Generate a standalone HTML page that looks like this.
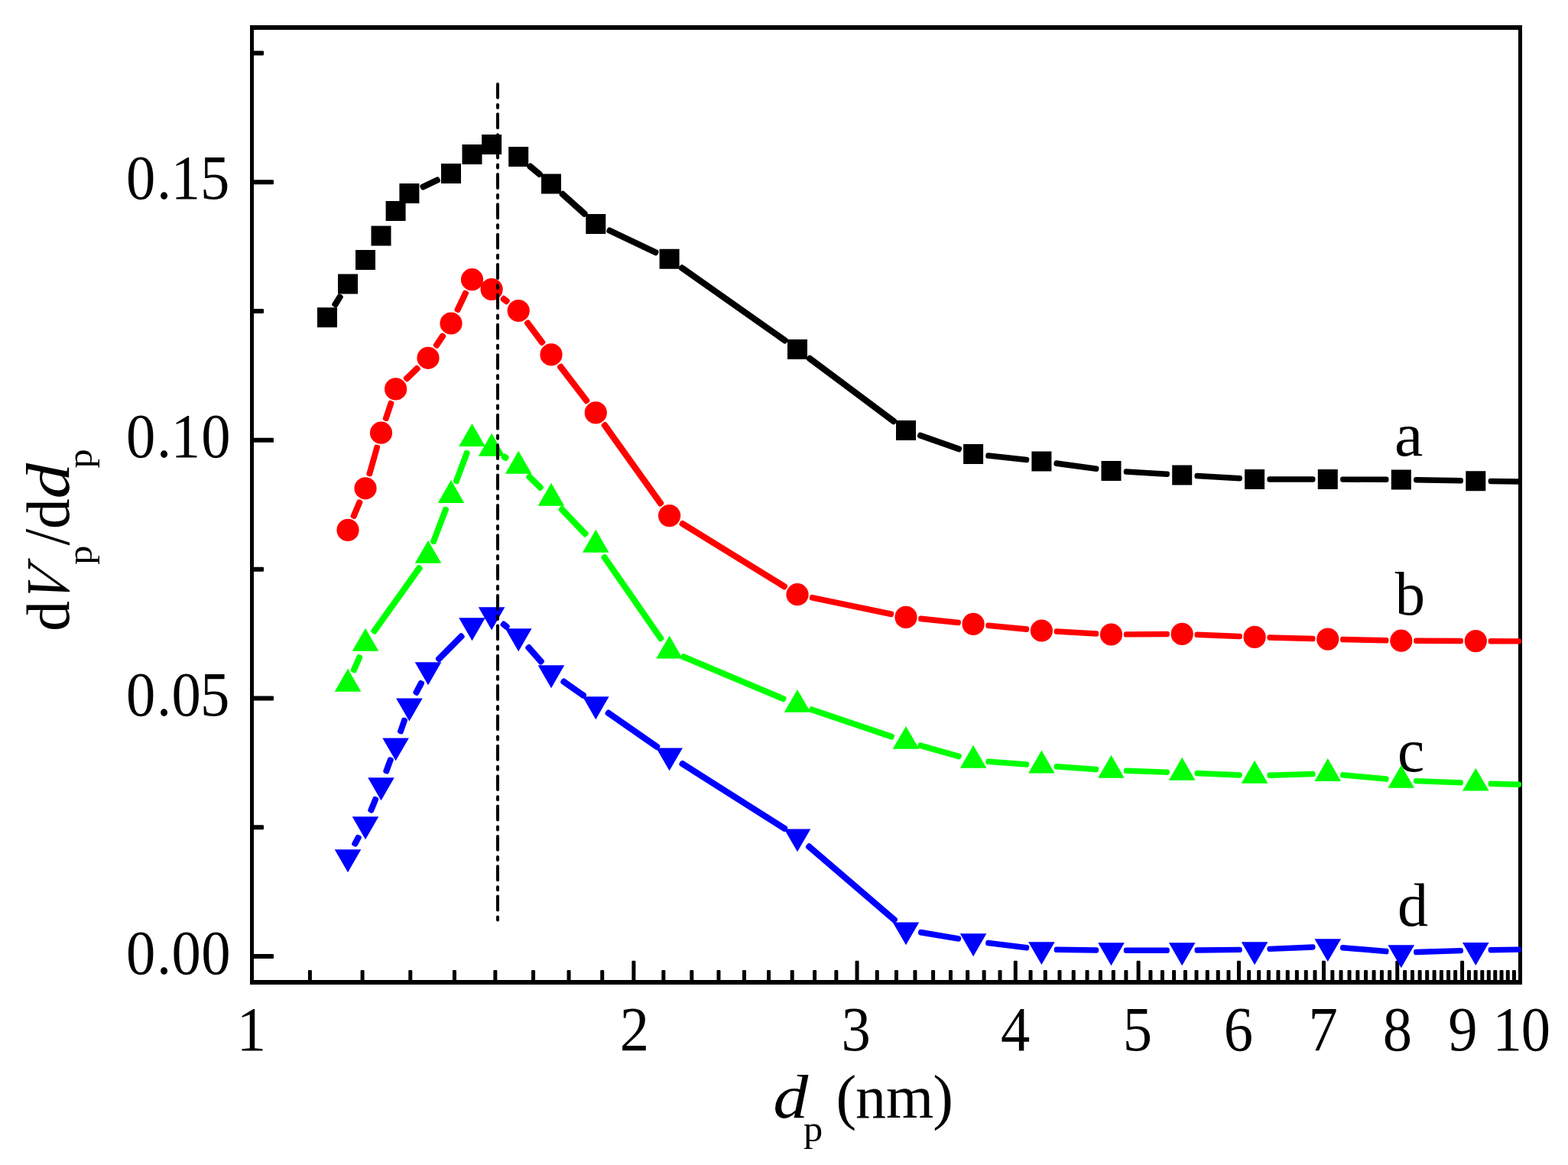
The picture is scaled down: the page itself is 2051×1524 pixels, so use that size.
<!DOCTYPE html>
<html lang="en"><head><meta charset="utf-8"><title>dVp/ddp - dp (nm)</title>
<style>html,body{margin:0;padding:0;background:#fff;}svg{display:block;}text{font-family:"Liberation Serif","DejaVu Serif",serif;fill:#000;}.i{font-style:italic;}</style></head><body>
<svg width="2051" height="1524" viewBox="0 0 2051 1524">
<rect x="0" y="0" width="2051" height="1524" fill="#fff"/>
<g id="curve-labels">
<text transform="translate(1824,596.2) scale(1.05,1)" font-size="80">a</text>
<text transform="translate(1824.8,804.1) scale(0.97,1)" font-size="81">b</text>
<text transform="translate(1828,1009.2)" font-size="79.5">c</text>
<text transform="translate(1827.9,1211.2) scale(0.99,1)" font-size="81">d</text>
</g>
<g id="axes" stroke="#000" fill="none">
<path d="M329.5 33.0 V1288.0 M1988.5 33.0 V1288.0" stroke-width="5.0"/>
<path d="M327.0 36.0 H1991.0 M327.0 1285.0 H1991.0" stroke-width="6.0"/>
<path d="M329.5 1249.30H356.80V1252.90H329.5ZM329.5 1080.48H343.80V1084.08H329.5ZM329.5 911.67H356.80V915.27H329.5ZM329.5 742.85H343.80V746.45H329.5ZM329.5 574.04H356.80V577.64H329.5ZM329.5 405.22H343.80V408.82H329.5ZM329.5 236.41H356.80V240.01H329.5ZM329.5 67.59H343.80V71.19H329.5Z" fill="#000" stroke-width="2.4" stroke-linejoin="round"/>
<path d="M404.11 1285.0V1270.10H406.71V1285.0ZM472.78 1285.0V1270.10H475.38V1285.0ZM535.47 1285.0V1270.10H538.07V1285.0ZM593.14 1285.0V1270.10H595.74V1285.0ZM646.54 1285.0V1270.10H649.14V1285.0ZM696.25 1285.0V1270.10H698.85V1285.0ZM742.75 1285.0V1270.10H745.35V1285.0ZM786.43 1285.0V1270.10H789.03V1285.0ZM827.61 1285.0V1258.00H830.21V1285.0ZM866.56 1285.0V1270.10H869.16V1285.0ZM903.52 1285.0V1270.10H906.12V1285.0ZM938.67 1285.0V1270.10H941.27V1285.0ZM972.19 1285.0V1270.10H974.79V1285.0ZM1004.22 1285.0V1270.10H1006.82V1285.0ZM1034.88 1285.0V1270.10H1037.48V1285.0ZM1064.29 1285.0V1270.10H1066.89V1285.0ZM1092.55 1285.0V1270.10H1095.15V1285.0ZM1119.74 1285.0V1258.00H1122.34V1285.0ZM1145.95 1285.0V1270.10H1148.55V1285.0ZM1171.23 1285.0V1270.10H1173.83V1285.0ZM1195.66 1285.0V1270.10H1198.26V1285.0ZM1219.28 1285.0V1270.10H1221.88V1285.0ZM1242.16 1285.0V1270.10H1244.76V1285.0ZM1264.33 1285.0V1270.10H1266.93V1285.0ZM1285.84 1285.0V1270.10H1288.44V1285.0ZM1306.72 1285.0V1270.10H1309.32V1285.0ZM1327.02 1285.0V1258.00H1329.62V1285.0ZM1346.76 1285.0V1270.10H1349.36V1285.0ZM1365.97 1285.0V1270.10H1368.57V1285.0ZM1384.69 1285.0V1270.10H1387.29V1285.0ZM1402.93 1285.0V1270.10H1405.53V1285.0ZM1420.72 1285.0V1270.10H1423.32V1285.0ZM1438.08 1285.0V1270.10H1440.68V1285.0ZM1455.04 1285.0V1270.10H1457.64V1285.0ZM1471.60 1285.0V1270.10H1474.20V1285.0ZM1487.79 1285.0V1258.00H1490.39V1285.0ZM1503.63 1285.0V1270.10H1506.23V1285.0ZM1519.12 1285.0V1270.10H1521.72V1285.0ZM1534.29 1285.0V1270.10H1536.89V1285.0ZM1549.15 1285.0V1270.10H1551.75V1285.0ZM1563.70 1285.0V1270.10H1566.30V1285.0ZM1577.97 1285.0V1270.10H1580.57V1285.0ZM1591.96 1285.0V1270.10H1594.56V1285.0ZM1605.69 1285.0V1270.10H1608.29V1285.0ZM1619.15 1285.0V1258.00H1621.75V1285.0ZM1632.37 1285.0V1270.10H1634.97V1285.0ZM1645.36 1285.0V1270.10H1647.96V1285.0ZM1658.11 1285.0V1270.10H1660.71V1285.0ZM1670.64 1285.0V1270.10H1673.24V1285.0ZM1682.96 1285.0V1270.10H1685.56V1285.0ZM1695.06 1285.0V1270.10H1697.66V1285.0ZM1706.97 1285.0V1270.10H1709.57V1285.0ZM1718.69 1285.0V1270.10H1721.29V1285.0ZM1730.22 1285.0V1258.00H1732.82V1285.0ZM1741.56 1285.0V1270.10H1744.16V1285.0ZM1752.73 1285.0V1270.10H1755.33V1285.0ZM1763.74 1285.0V1270.10H1766.34V1285.0ZM1774.57 1285.0V1270.10H1777.17V1285.0ZM1785.24 1285.0V1270.10H1787.84V1285.0ZM1795.76 1285.0V1270.10H1798.36V1285.0ZM1806.13 1285.0V1270.10H1808.73V1285.0ZM1816.35 1285.0V1270.10H1818.95V1285.0ZM1826.43 1285.0V1258.00H1829.03V1285.0ZM1836.36 1285.0V1270.10H1838.96V1285.0ZM1846.17 1285.0V1270.10H1848.77V1285.0ZM1855.84 1285.0V1270.10H1858.44V1285.0ZM1865.38 1285.0V1270.10H1867.98V1285.0ZM1874.80 1285.0V1270.10H1877.40V1285.0ZM1884.10 1285.0V1270.10H1886.70V1285.0ZM1893.28 1285.0V1270.10H1895.88V1285.0ZM1902.34 1285.0V1270.10H1904.94V1285.0ZM1911.29 1285.0V1258.00H1913.89V1285.0ZM1920.13 1285.0V1270.10H1922.73V1285.0ZM1928.86 1285.0V1270.10H1931.46V1285.0ZM1937.49 1285.0V1270.10H1940.09V1285.0ZM1946.02 1285.0V1270.10H1948.62V1285.0ZM1954.44 1285.0V1270.10H1957.04V1285.0ZM1962.77 1285.0V1270.10H1965.37V1285.0ZM1971.01 1285.0V1270.10H1973.61V1285.0ZM1979.15 1285.0V1270.10H1981.75V1285.0Z" fill="#000" stroke-width="2.4" stroke-linejoin="round"/>
</g>
<g id="tick-labels">
<text transform="translate(165.1,260.1) scale(0.94,1)" font-size="81.5" x="0 42.34 62.45 103.09">0.15</text>
<text transform="translate(165.1,598) scale(0.94,1)" font-size="81.5" x="0 42.34 62.45 104.36">0.10</text>
<text transform="translate(165.1,936.1) scale(0.94,1)" font-size="81.5" x="0 42.34 63.3 103.09">0.05</text>
<text transform="translate(165.1,1274.2) scale(0.94,1)" font-size="81.5" x="0 42.34 63.3 104.36">0.00</text>
<text transform="translate(309.77,1374) scale(0.94,1)" font-size="81.5">1</text>
<text transform="translate(810.67,1374) scale(0.94,1)" font-size="81.5">2</text>
<text transform="translate(1100.5,1374) scale(0.94,1)" font-size="81.5">3</text>
<text transform="translate(1308.99,1374) scale(0.94,1)" font-size="81.5">4</text>
<text transform="translate(1468.82,1374) scale(0.94,1)" font-size="81.5">5</text>
<text transform="translate(1600.65,1374) scale(0.94,1)" font-size="81.5">6</text>
<text transform="translate(1711.43,1374) scale(0.94,1)" font-size="81.5">7</text>
<text transform="translate(1808.85,1374) scale(0.94,1)" font-size="81.5">8</text>
<text transform="translate(1894.29,1374) scale(0.94,1)" font-size="81.5">9</text>
<text transform="translate(1952.4,1374) scale(0.94,1)" font-size="81.5" x="0 39.68">10</text>
</g>
<g id="axis-titles">
<text transform="translate(1011.2,1462) scale(1.15,1)" font-size="80" class="i">d</text>
<text transform="translate(1050.9,1492.7) scale(1.05,1)" font-size="48">p</text>
<text transform="translate(1093.5,1462)" font-size="80" x="0 25.4 65.4 126.7">(nm)</text>
<g transform="translate(89.5,822.8) rotate(-90)">
<text transform="translate(-2.9,0) scale(0.98,1)" font-size="81">d</text>
<text transform="translate(30.9,0) skewX(-13.6) scale(0.86,1)" font-size="81" class="i">V</text>
<text transform="translate(84,30) scale(1.07,1)" font-size="47">p</text>
<text transform="translate(109.2,0) scale(0.92,1)" font-size="85.4">/</text>
<text transform="translate(130.7,0) scale(0.98,1)" font-size="81">d</text>
<text transform="translate(170.2,0) scale(1.15,1)" font-size="81" class="i">d</text>
<text transform="translate(210.4,30) scale(1.07,1)" font-size="47">p</text>
</g>
</g>
<g id="series">
<g>
<path d="M439.02 399.09L445.52 388.56L443.98 387.61L437.48 398.14ZM553.36 245.36L572.77 236.08L572.04 234.54L552.63 243.82ZM692.59 218.19L705.41 228.85L706.61 227.41L693.79 216.75ZM734.88 254.33L764.15 280.58L765.42 279.17L736.15 252.92ZM796.54 302.06L857.63 331.18L858.36 329.64L797.27 300.52ZM891.00 350.80L1026.53 446.41L1027.60 444.90L892.07 349.29ZM1058.06 469.32L1168.82 552.07L1169.94 550.58L1059.18 467.83ZM1203.13 570.21L1254.45 588.26L1254.97 586.79L1203.65 568.74ZM1292.43 596.65L1342.95 602.03L1343.07 600.85L1292.55 595.47ZM1381.64 606.74L1434.09 613.88L1434.26 612.66L1381.81 605.52ZM1472.93 617.61L1526.70 620.80L1526.77 619.69L1473.00 616.50ZM1565.63 623.10L1621.60 626.40L1621.67 625.30L1565.70 622.00ZM1660.60 627.50L1717.30 627.50L1717.30 626.50L1660.60 626.50ZM1756.30 627.58L1813.30 627.82L1813.30 626.82L1756.30 626.58ZM1852.29 628.28L1910.79 629.36L1910.81 628.32L1852.31 627.24ZM1949.79 629.99L1986.79 630.53L1986.81 629.50L1949.81 628.97Z" fill="#000000" stroke="#000000" stroke-width="6.4" stroke-linejoin="round"/>
<path d="M415.00 402.20h26.0v26.0h-26.0zM442.00 358.50h26.0v26.0h-26.0zM465.00 327.00h26.0v26.0h-26.0zM485.50 295.50h26.0v26.0h-26.0zM504.60 263.00h26.0v26.0h-26.0zM522.40 240.00h26.0v26.0h-26.0zM577.00 213.90h26.0v26.0h-26.0zM604.50 189.00h26.0v26.0h-26.0zM630.10 176.00h26.0v26.0h-26.0zM665.20 192.00h26.0v26.0h-26.0zM708.00 227.60h26.0v26.0h-26.0zM766.30 279.90h26.0v26.0h-26.0zM862.60 325.80h26.0v26.0h-26.0zM1030.00 443.90h26.0v26.0h-26.0zM1172.00 550.00h26.0v26.0h-26.0zM1260.10 581.00h26.0v26.0h-26.0zM1349.40 590.50h26.0v26.0h-26.0zM1440.50 602.90h26.0v26.0h-26.0zM1533.20 608.40h26.0v26.0h-26.0zM1628.10 614.00h26.0v26.0h-26.0zM1723.80 614.00h26.0v26.0h-26.0zM1819.80 614.40h26.0v26.0h-26.0zM1917.30 616.20h26.0v26.0h-26.0z" fill="#000000"/>
</g>
<g>
<path d="M463.33 675.75L471.19 657.09L469.67 656.45L461.81 675.11ZM484.01 620.23L493.91 585.17L492.49 584.77L482.59 619.83ZM505.40 547.94L512.16 527.64L510.70 527.16L503.94 547.46ZM532.34 496.10L546.57 482.47L545.26 481.10L531.03 494.73ZM571.53 452.55L580.00 439.76L578.47 438.75L570.00 451.54ZM599.20 405.79L609.83 383.65L608.30 382.91L597.67 405.05ZM657.76 391.39L662.37 395.07L663.54 393.61L658.93 389.93ZM689.11 422.69L708.60 448.82L710.09 447.71L690.60 421.58ZM732.13 479.94L766.69 525.00L768.17 523.86L733.61 478.80ZM789.89 556.30L863.51 659.28L865.01 658.20L791.39 555.22ZM891.73 685.59L1025.92 768.24L1026.87 766.71L892.68 684.06ZM1061.95 782.36L1165.77 804.07L1166.05 802.74L1062.23 781.03ZM1204.34 809.97L1253.64 815.01L1253.76 813.83L1204.46 808.79ZM1292.45 818.85L1342.93 823.71L1343.05 822.55L1292.57 817.69ZM1381.84 826.62L1434.00 829.48L1434.06 828.38L1381.90 825.52ZM1473.00 830.38L1526.70 830.03L1526.70 829.02L1473.00 829.37ZM1565.66 830.76L1621.59 833.12L1621.64 832.04L1565.71 829.68ZM1660.58 834.48L1717.29 836.08L1717.32 835.02L1660.61 833.42ZM1756.28 837.05L1813.29 838.29L1813.32 837.25L1756.31 836.01ZM1852.30 838.78L1910.80 839.02L1910.80 838.02L1852.30 837.78ZM1949.80 839.18L1986.80 839.34L1986.80 838.33L1949.80 838.18Z" fill="#ff0000" stroke="#ff0000" stroke-width="6.4" stroke-linejoin="round"/>
<g fill="#ff0000"><circle cx="455.00" cy="693.40" r="14.6"/><circle cx="478.00" cy="638.80" r="14.6"/><circle cx="498.50" cy="566.20" r="14.6"/><circle cx="517.60" cy="508.90" r="14.6"/><circle cx="560.00" cy="468.30" r="14.6"/><circle cx="590.00" cy="423.00" r="14.6"/><circle cx="617.50" cy="365.70" r="14.6"/><circle cx="643.10" cy="378.50" r="14.6"/><circle cx="678.20" cy="406.50" r="14.6"/><circle cx="721.00" cy="463.90" r="14.6"/><circle cx="779.30" cy="539.90" r="14.6"/><circle cx="875.60" cy="674.60" r="14.6"/><circle cx="1043.00" cy="777.70" r="14.6"/><circle cx="1185.00" cy="807.40" r="14.6"/><circle cx="1273.10" cy="816.40" r="14.6"/><circle cx="1362.40" cy="825.00" r="14.6"/><circle cx="1453.50" cy="830.00" r="14.6"/><circle cx="1546.20" cy="829.40" r="14.6"/><circle cx="1641.10" cy="833.40" r="14.6"/><circle cx="1736.80" cy="836.10" r="14.6"/><circle cx="1832.80" cy="838.20" r="14.6"/><circle cx="1930.30" cy="838.60" r="14.6"/></g>
</g>
<g>
<path d="M463.54 877.15L470.99 860.01L469.46 859.35L462.01 876.49ZM490.08 826.47L549.43 743.31L547.92 742.23L488.57 825.39ZM567.68 708.96L583.82 666.51L582.32 665.94L566.18 708.39ZM597.54 630.00L611.45 592.56L609.96 592.00L596.05 629.44ZM658.93 598.22L661.37 599.81L662.37 598.28L659.93 596.69ZM691.44 624.05L706.43 638.80L707.76 637.45L692.77 622.70ZM733.80 666.54L765.13 699.27L766.50 697.96L735.17 665.23ZM789.66 729.25L863.73 836.00L865.24 834.95L791.17 728.20ZM893.26 859.82L1024.71 915.10L1025.34 913.58L893.89 858.30ZM1061.23 928.88L1166.28 964.39L1166.77 962.92L1061.72 927.41ZM1203.57 975.89L1254.13 990.12L1254.53 988.71L1203.97 974.48ZM1292.50 996.75L1342.91 1000.59L1343.00 999.45L1292.59 995.61ZM1381.82 1003.38L1434.01 1006.94L1434.08 1005.82L1381.89 1002.26ZM1472.97 1008.88L1526.69 1010.68L1526.73 1009.62L1473.01 1007.82ZM1565.66 1012.14L1621.59 1014.44L1621.64 1013.36L1565.71 1011.06ZM1660.61 1014.68L1717.32 1013.08L1717.29 1012.02L1660.58 1013.62ZM1756.16 1014.38L1813.33 1019.68L1813.44 1018.52L1756.27 1013.22ZM1852.27 1022.17L1910.79 1024.39L1910.83 1023.33L1852.31 1021.11ZM1949.78 1025.71L1986.79 1026.81L1986.82 1025.76L1949.81 1024.65Z" fill="#00ff00" stroke="#00ff00" stroke-width="6.4" stroke-linejoin="round"/>
<path d="M455.00 874.77l17.30 29.90h-34.60zM478.00 821.87l17.30 29.90h-34.60zM560.00 706.97l17.30 29.90h-34.60zM590.00 628.07l17.30 29.90h-34.60zM617.50 554.07l17.30 29.90h-34.60zM643.10 566.87l17.30 29.90h-34.60zM678.20 589.77l17.30 29.90h-34.60zM721.00 631.87l17.30 29.90h-34.60zM779.30 692.77l17.30 29.90h-34.60zM875.60 831.57l17.30 29.90h-34.60zM1043.00 901.97l17.30 29.90h-34.60zM1185.00 949.97l17.30 29.90h-34.60zM1273.10 974.77l17.30 29.90h-34.60zM1362.40 981.57l17.30 29.90h-34.60zM1453.50 987.77l17.30 29.90h-34.60zM1546.20 990.87l17.30 29.90h-34.60zM1641.10 994.77l17.30 29.90h-34.60zM1736.80 992.07l17.30 29.90h-34.60zM1832.80 1000.97l17.30 29.90h-34.60zM1930.30 1004.67l17.30 29.90h-34.60z" fill="#00ff00"/>
</g>
<g>
<path d="M464.95 1104.51L469.59 1095.82L468.05 1094.99L463.41 1103.68ZM486.04 1060.42L491.97 1045.69L490.46 1045.08L484.53 1059.81ZM505.98 1009.27L511.61 993.97L510.12 993.43L504.49 1008.73ZM524.66 957.21L529.81 942.20L528.34 941.69L523.19 956.70ZM545.17 906.60L551.77 893.90L550.23 893.10L543.63 905.80ZM574.40 863.02L604.45 832.72L603.10 831.38L573.05 861.68ZM657.74 817.12L662.39 820.85L663.56 819.38L658.91 815.65ZM690.49 847.47L707.30 866.29L708.71 865.03L691.90 846.21ZM736.42 892.17L762.82 910.74L763.88 909.23L737.48 890.66ZM794.76 933.12L859.08 978.00L860.14 976.48L795.82 931.60ZM891.59 999.60L1026.04 1084.73L1027.01 1083.20L892.56 998.07ZM1057.18 1107.82L1169.59 1204.41L1170.82 1202.98L1058.41 1106.39ZM1204.12 1220.27L1253.76 1228.61L1253.98 1227.33L1204.34 1218.99ZM1292.38 1234.17L1342.97 1240.34L1343.12 1239.13L1292.53 1232.96ZM1381.89 1242.85L1434.00 1243.48L1434.01 1242.45L1381.90 1241.82ZM1473.00 1243.70L1526.70 1243.70L1526.70 1242.70L1473.00 1242.70ZM1565.70 1243.50L1621.61 1242.91L1621.60 1241.90L1565.69 1242.49ZM1660.61 1241.90L1717.34 1239.47L1717.29 1238.40L1660.56 1240.83ZM1756.18 1240.31L1813.32 1245.13L1813.42 1243.99L1756.28 1239.17ZM1852.31 1246.09L1910.83 1244.17L1910.79 1243.11L1852.27 1245.03ZM1949.81 1243.21L1986.81 1242.64L1986.79 1241.61L1949.79 1242.19Z" fill="#0000ff" stroke="#0000ff" stroke-width="6.4" stroke-linejoin="round"/>
<path d="M455.00 1141.23l17.30 -29.90h-34.60zM478.00 1098.13l17.30 -29.90h-34.60zM498.50 1047.23l17.30 -29.90h-34.60zM517.60 995.33l17.30 -29.90h-34.60zM535.40 943.43l17.30 -29.90h-34.60zM560.00 896.13l17.30 -29.90h-34.60zM617.50 838.13l17.30 -29.90h-34.60zM643.10 824.13l17.30 -29.90h-34.60zM678.20 852.23l17.30 -29.90h-34.60zM721.00 900.13l17.30 -29.90h-34.60zM779.30 941.13l17.30 -29.90h-34.60zM875.60 1008.33l17.30 -29.90h-34.60zM1043.00 1114.33l17.30 -29.90h-34.60zM1185.00 1236.33l17.30 -29.90h-34.60zM1273.10 1251.13l17.30 -29.90h-34.60zM1362.40 1262.03l17.30 -29.90h-34.60zM1453.50 1263.13l17.30 -29.90h-34.60zM1546.20 1263.13l17.30 -29.90h-34.60zM1641.10 1262.13l17.30 -29.90h-34.60zM1736.80 1258.03l17.30 -29.90h-34.60zM1832.80 1266.13l17.30 -29.90h-34.60zM1930.30 1262.93l17.30 -29.90h-34.60z" fill="#0000ff"/>
</g>
</g>
<path d="M651 109.9 V1204" stroke="#000" stroke-width="4" stroke-linecap="round" stroke-dasharray="17.9 9.1 4 8.36" fill="none"/>
</svg></body></html>
